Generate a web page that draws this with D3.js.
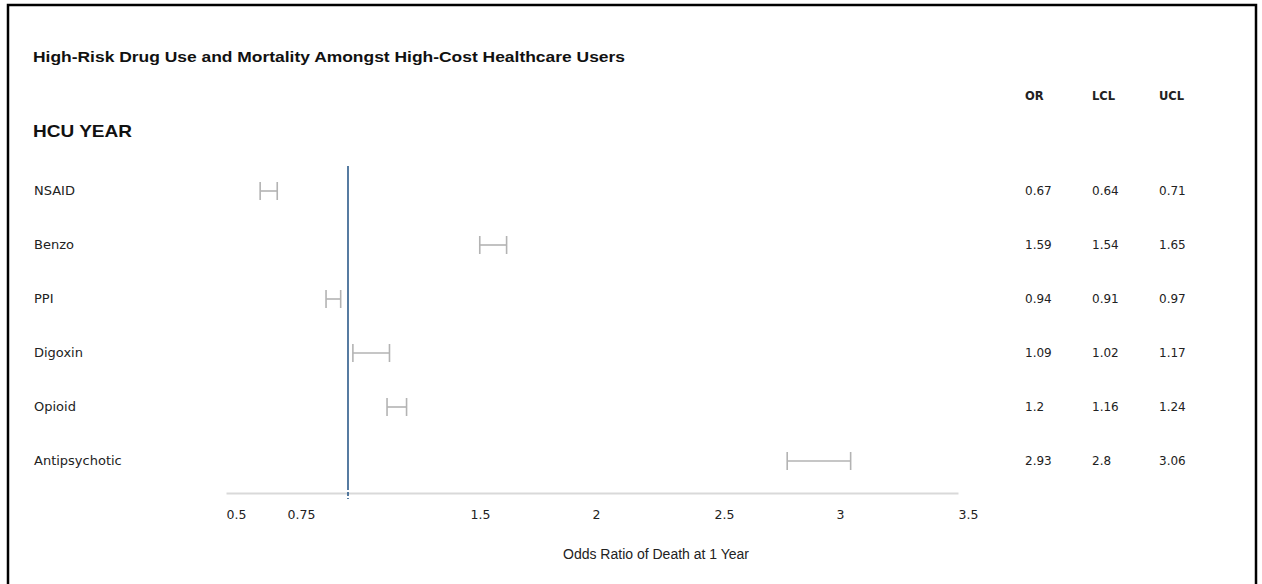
<!DOCTYPE html>
<html>
<head>
<meta charset="utf-8">
<script src="https://cdn.jsdelivr.net/npm/d3@7"></script>
<style>
  body { margin: 0; background: #fff; }
  svg { display: block; }
</style>
</head>
<body>
<svg id="chart" width="1262" height="584"></svg>
<script>
// data
var drugs = ["NSAID", "Benzo", "PPI", "Digoxin", "Opioid", "Antipsychotic"];
var orVals = [0.67, 1.59, 0.94, 1.09, 1.2, 2.93];
var lclVals = [0.64, 1.54, 0.91, 1.02, 1.16, 2.8];
var uclVals = [0.71, 1.65, 0.97, 1.17, 1.24, 3.06];
var tickVals = [0.5, 0.75, 1.5, 2, 2.5, 3, 3.5];
var tableCols = ["OR", "LCL", "UCL"];

var svg = d3.select("#chart");
var sansUI = "'DejaVu Sans', Verdana, sans-serif";
var arial = "'Liberation Sans', Arial, sans-serif";

// frame
svg.append("rect")
  .attr("x", 8).attr("y", 5)
  .attr("width", 1248).attr("height", 600)
  .attr("fill", "none").attr("stroke", "#000").attr("stroke-width", 2.5);

svg.append("text")
  .attr("x", 33).attr("y", 62)
  .attr("textLength", 592).attr("lengthAdjust", "spacingAndGlyphs")
  .style("font-family", arial).style("font-size", "15px").style("font-weight", "bold")
  .attr("fill", "#111")
  .text("High-Risk Drug Use and Mortality Amongst High-Cost Healthcare Users");

svg.append("text")
  .attr("x", 33).attr("y", 137)
  .attr("textLength", 99).attr("lengthAdjust", "spacingAndGlyphs")
  .style("font-family", arial).style("font-size", "17px").style("font-weight", "bold")
  .attr("fill", "#111")
  .text("HCU YEAR");

var x = d3.scaleLinear().domain([0.5, 3.5]).range([226, 958]);
var y = d3.scalePoint().domain(drugs).range([191, 461]);
var axisY = 493;

// axis
var axis = d3.axisBottom(x).tickValues(tickVals).tickSize(0).tickPadding(17)
  .tickFormat(function (d) { return String(d); });
var ag = svg.append("g").attr("transform", "translate(0," + axisY + ")").call(axis);
ag.select(".domain").attr("stroke", "#d9d9d9").attr("stroke-width", 2);
ag.selectAll("text")
  .attr("text-anchor", "start")
  .style("font-family", sansUI).style("font-size", "12.5px")
  .attr("fill", "#222");

svg.append("text")
  .attr("x", 563).attr("y", 559)
  .style("font-family", arial).style("font-size", "14px")
  .attr("fill", "#222")
  .text("Odds Ratio of Death at 1 Year");

// reference line at OR = 1
svg.append("line")
  .attr("x1", x(1)).attr("x2", x(1))
  .attr("y1", 166).attr("y2", 486)
  .attr("stroke", "#2c5b8a").attr("stroke-width", 1.6);
svg.append("line")
  .attr("x1", x(1)).attr("x2", x(1))
  .attr("y1", 486).attr("y2", 499)
  .attr("stroke", "#2c5b8a").attr("stroke-width", 1.6)
  .attr("stroke-dasharray", "4,2");

// row labels
svg.selectAll(".rowlab").data(drugs).enter().append("text")
  .attr("class", "rowlab")
  .attr("x", 34).attr("y", function (d) { return y(d) + 4; })
  .style("font-family", sansUI).style("font-size", "13px")
  .attr("fill", "#222")
  .text(function (d) { return d; });

// confidence intervals
var capH = 9;
var ci = svg.selectAll(".ci").data(drugs).enter().append("g").attr("class", "ci");
ci.append("line")
  .attr("x1", function (d, i) { return x(lclVals[i]); })
  .attr("x2", function (d, i) { return x(uclVals[i]); })
  .attr("y1", function (d) { return y(d); })
  .attr("y2", function (d) { return y(d); });
ci.append("line")
  .attr("x1", function (d, i) { return x(lclVals[i]); })
  .attr("x2", function (d, i) { return x(lclVals[i]); })
  .attr("y1", function (d) { return y(d) - capH; })
  .attr("y2", function (d) { return y(d) + capH; });
ci.append("line")
  .attr("x1", function (d, i) { return x(uclVals[i]); })
  .attr("x2", function (d, i) { return x(uclVals[i]); })
  .attr("y1", function (d) { return y(d) - capH; })
  .attr("y2", function (d) { return y(d) + capH; });
ci.selectAll("line").attr("stroke", "#b3b3b3").attr("stroke-width", 1.6);

// table
var colX = d3.scalePoint().domain(tableCols).range([1025, 1159]);
svg.selectAll(".colhead").data(tableCols).enter().append("text")
  .attr("class", "colhead")
  .attr("x", function (d) { return colX(d); }).attr("y", 100)
  .style("font-family", sansUI).style("font-size", "11.5px").style("font-weight", "bold")
  .attr("fill", "#222")
  .text(function (d) { return d; });

var cols = [orVals, lclVals, uclVals];
tableCols.forEach(function (c, j) {
  svg.selectAll(".cell-" + c).data(drugs).enter().append("text")
    .attr("class", "cell-" + c)
    .attr("x", colX(c)).attr("y", function (d) { return y(d) + 4; })
    .style("font-family", sansUI).style("font-size", "12px")
    .attr("fill", "#222")
    .text(function (d, i) { return String(cols[j][i]); });
});
</script>
</body>
</html>
